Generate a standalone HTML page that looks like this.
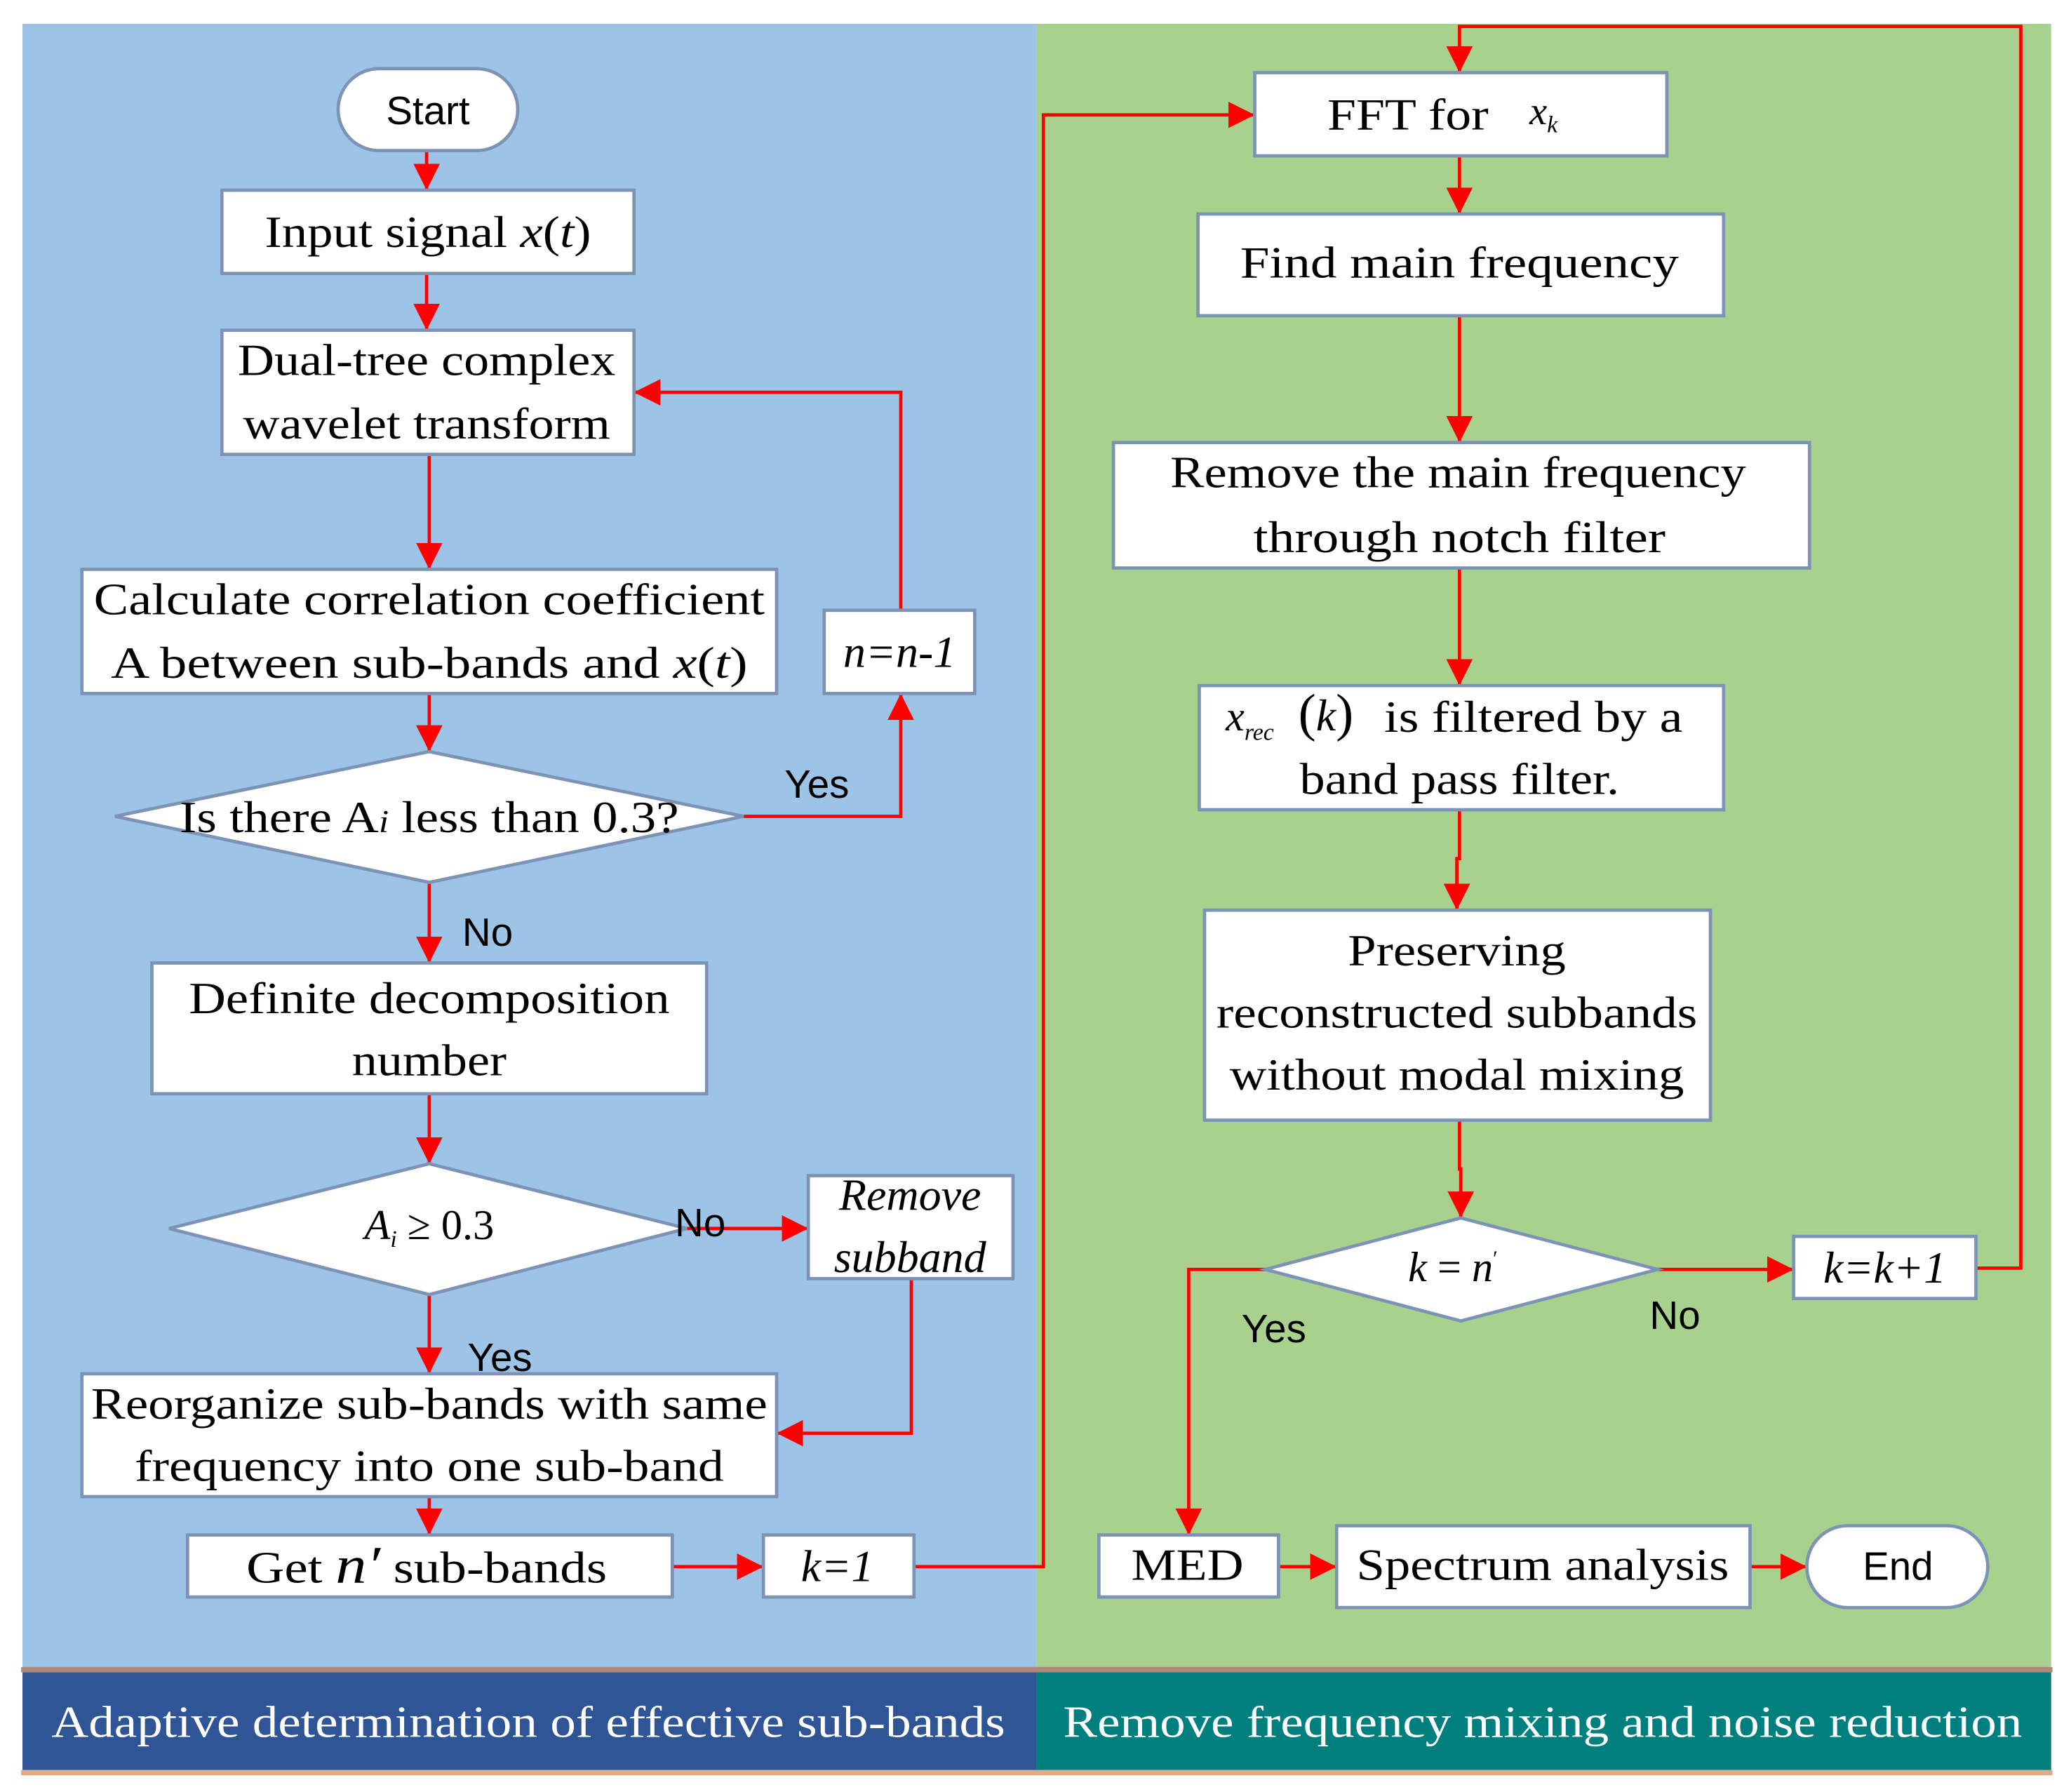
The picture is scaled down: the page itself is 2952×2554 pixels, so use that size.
<!DOCTYPE html>
<html><head><meta charset="utf-8"><style>
html,body{margin:0;padding:0;background:#fff;}
svg{display:block;}
text{font-family:"Liberation Serif",serif;fill:#000;}
.s{font-family:"Liberation Sans",sans-serif;}
.b{fill:#fff;stroke:#7d93b5;stroke-width:2.5;}
.l{stroke:#ff0000;stroke-width:2.5;fill:none;}
</style></head><body>
<svg width="2952" height="2554" viewBox="0 0 1568 1356.6" xmlns="http://www.w3.org/2000/svg">
<defs>
<marker id="A" viewBox="0 0 10 10" refX="10" refY="5" markerWidth="20" markerHeight="20" markerUnits="userSpaceOnUse" orient="auto">
<path d="M0,0 L10,5 L0,10 z" fill="#ff0000"/></marker>
</defs>
<rect x="0" y="0" width="1568" height="1357" fill="#fff"/>
<rect x="17" y="18" width="768" height="1246" fill="#9DC3E6"/>
<rect x="785" y="18" width="768" height="1246" fill="#A9D18E"/>
<rect x="16" y="1262" width="1538" height="4" fill="#b08a78"/>
<rect x="17" y="1266" width="768" height="74" fill="#2F5597"/>
<rect x="785" y="1266" width="768" height="74" fill="#007F7F"/>
<rect x="16" y="1340" width="1538" height="4" fill="#e0ab88"/>
<text x="400" y="1315" font-size="34" style="fill:#fff" text-anchor="middle" textLength="722" lengthAdjust="spacingAndGlyphs">Adaptive determination of effective sub-bands</text>
<text x="1168" y="1315" font-size="34" style="fill:#fff" text-anchor="middle" textLength="726" lengthAdjust="spacingAndGlyphs">Remove frequency mixing and noise reduction</text>

<g class="l">
<path d="M323,114 V144" marker-end="url(#A)"/>
<path d="M323,207 V250" marker-end="url(#A)"/>
<path d="M325,344 V431" marker-end="url(#A)"/>
<path d="M325,525 V569" marker-end="url(#A)"/>
<path d="M563,618 H682 V525" marker-end="url(#A)"/>
<path d="M682,462 V297 H480" marker-end="url(#A)"/>
<path d="M325,668 V729" marker-end="url(#A)"/>
<path d="M325,828 V881" marker-end="url(#A)"/>
<path d="M520,930 H612" marker-end="url(#A)"/>
<path d="M690,968 V1085 H588" marker-end="url(#A)"/>
<path d="M325,980 V1040" marker-end="url(#A)"/>
<path d="M325,1133 V1162" marker-end="url(#A)"/>
<path d="M509,1186 H578" marker-end="url(#A)"/>
<path d="M692,1186 H790 V87 H950" marker-end="url(#A)"/>
<path d="M1105,118 V162" marker-end="url(#A)"/>
<path d="M1105,239 V335" marker-end="url(#A)"/>
<path d="M1105,430 V519" marker-end="url(#A)"/>
<path d="M1105,613 V650 H1103 V689" marker-end="url(#A)"/>
<path d="M1105,848 V885 H1106 V922" marker-end="url(#A)"/>
<path d="M1255,961 H1358" marker-end="url(#A)"/>
<path d="M1496,960 H1530 V20 H1105 V55" marker-end="url(#A)"/>
<path d="M958,961 H900 V1162" marker-end="url(#A)"/>
<path d="M968,1186 H1012" marker-end="url(#A)"/>
<path d="M1325,1186 H1368" marker-end="url(#A)"/>
</g>

<rect class="b" x="256" y="52" width="136" height="62" rx="31"/>
<text class="s" x="324" y="94" font-size="30" text-anchor="middle">Start</text>
<rect class="b" x="168" y="144" width="312" height="63"/>
<text x="324" y="187" font-size="34" text-anchor="middle" textLength="247" lengthAdjust="spacingAndGlyphs">Input signal <tspan font-style="italic">x</tspan>(<tspan font-style="italic">t</tspan>)</text>
<rect class="b" x="168" y="250" width="312" height="94"/>
<text x="323" y="284" font-size="34" text-anchor="middle" textLength="286" lengthAdjust="spacingAndGlyphs">Dual-tree complex</text>
<text x="323" y="332" font-size="34" text-anchor="middle" textLength="278" lengthAdjust="spacingAndGlyphs">wavelet transform</text>
<rect class="b" x="62" y="431" width="526" height="94"/>
<text x="325" y="465" font-size="34" text-anchor="middle" textLength="508" lengthAdjust="spacingAndGlyphs">Calculate  correlation coefficient</text>
<text x="325" y="513" font-size="34" text-anchor="middle" textLength="482" lengthAdjust="spacingAndGlyphs">A between  sub-bands and  <tspan font-style="italic">x</tspan>(<tspan font-style="italic">t</tspan>)</text>
<rect class="b" x="624" y="462" width="114" height="63"/>
<text x="681" y="505" font-size="34" font-style="italic" text-anchor="middle">n=n-1</text>
<polygon class="b" points="87,618 325,569 563,618 325,668"/>
<text x="325" y="630" font-size="34" text-anchor="middle" textLength="378" lengthAdjust="spacingAndGlyphs">Is there A<tspan font-style="italic" font-size="24">i</tspan> less than 0.3?</text>
<text class="s" x="594" y="604" font-size="30">Yes</text>
<text class="s" x="350" y="716" font-size="30">No</text>
<rect class="b" x="115" y="729" width="420" height="99"/>
<text x="325" y="767" font-size="34" text-anchor="middle" textLength="364" lengthAdjust="spacingAndGlyphs">Definite decomposition</text>
<text x="325" y="814" font-size="34" text-anchor="middle" textLength="117" lengthAdjust="spacingAndGlyphs">number</text>
<polygon class="b" points="128,930 325,881 520,930 325,980"/>
<text x="325" y="938" font-size="32" text-anchor="middle"><tspan font-style="italic">A</tspan><tspan font-style="italic" font-size="18" dy="6">i</tspan><tspan dy="-6"> ≥ 0.3</tspan></text>
<text class="s" x="511" y="936" font-size="30">No</text>
<rect class="b" x="612" y="890" width="155" height="78"/>
<text x="689" y="916" font-size="34" font-style="italic" text-anchor="middle">Remove</text>
<text x="689" y="963" font-size="34" font-style="italic" text-anchor="middle">subband</text>
<text class="s" x="354" y="1038" font-size="30">Yes</text>
<rect class="b" x="62" y="1040" width="526" height="93"/>
<text x="325" y="1074" font-size="34" text-anchor="middle" textLength="512" lengthAdjust="spacingAndGlyphs">Reorganize sub-bands with same</text>
<text x="325" y="1121" font-size="34" text-anchor="middle" textLength="446" lengthAdjust="spacingAndGlyphs">frequency into one sub-band</text>
<rect class="b" x="142" y="1162" width="367" height="47"/>
<text x="323" y="1198" font-size="34" text-anchor="middle" textLength="273" lengthAdjust="spacingAndGlyphs">Get <tspan font-style="italic" font-size="40">n′</tspan> sub-bands</text>
<rect class="b" x="578" y="1162" width="114" height="47"/>
<text x="634" y="1197" font-size="34" font-style="italic" text-anchor="middle">k=1</text>

<rect class="b" x="950" y="55" width="312" height="63"/>
<text x="1005" y="98" font-size="34" textLength="122" lengthAdjust="spacingAndGlyphs">FFT for</text>
<text x="1158" y="94" font-size="30" font-style="italic">x<tspan font-size="18" dy="6">k</tspan></text>
<rect class="b" x="907" y="162" width="398" height="77"/>
<text x="1105" y="210" font-size="34" text-anchor="middle" textLength="332" lengthAdjust="spacingAndGlyphs">Find  main frequency</text>
<rect class="b" x="843" y="335" width="527" height="95"/>
<text x="1104" y="369" font-size="34" text-anchor="middle" textLength="436" lengthAdjust="spacingAndGlyphs">Remove the main frequency</text>
<text x="1105" y="418" font-size="34" text-anchor="middle" textLength="312" lengthAdjust="spacingAndGlyphs">through  notch filter</text>
<rect class="b" x="908" y="519" width="397" height="94"/>
<text x="928" y="553" font-size="32" font-style="italic">x<tspan font-size="18" dy="7">rec</tspan></text>
<text x="983" y="553" font-size="40">(<tspan font-style="italic" font-size="34">k</tspan>)</text>
<text x="1048" y="554" font-size="34" textLength="226" lengthAdjust="spacingAndGlyphs">is filtered by a</text>
<text x="1105" y="601" font-size="34" text-anchor="middle" textLength="242" lengthAdjust="spacingAndGlyphs">band pass filter.</text>
<rect class="b" x="912" y="689" width="383" height="159"/>
<text x="1103" y="731" font-size="34" text-anchor="middle" textLength="165" lengthAdjust="spacingAndGlyphs">Preserving</text>
<text x="1103" y="778" font-size="34" text-anchor="middle" textLength="364" lengthAdjust="spacingAndGlyphs">reconstructed subbands</text>
<text x="1103" y="825" font-size="34" text-anchor="middle" textLength="344" lengthAdjust="spacingAndGlyphs">without modal mixing</text>
<polygon class="b" points="958,961 1106,922 1255,961 1106,1000"/>
<text x="1100" y="970" font-size="32" text-anchor="middle"><tspan font-style="italic">k</tspan> = <tspan font-style="italic">n</tspan><tspan font-size="16" dy="-12">′</tspan></text>
<text class="s" x="1249" y="1006" font-size="30">No</text>
<text class="s" x="940" y="1016" font-size="30">Yes</text>
<rect class="b" x="1358" y="936" width="138" height="47"/>
<text x="1427" y="971" font-size="34" font-style="italic" text-anchor="middle">k=k+1</text>
<rect class="b" x="832" y="1162" width="136" height="47"/>
<text x="899" y="1196" font-size="34" text-anchor="middle" textLength="85" lengthAdjust="spacingAndGlyphs">MED</text>
<rect class="b" x="1012" y="1155" width="313" height="62"/>
<text x="1168" y="1196" font-size="34" text-anchor="middle" textLength="282" lengthAdjust="spacingAndGlyphs">Spectrum analysis</text>
<rect class="b" x="1368" y="1155" width="137" height="62" rx="31"/>
<text class="s" x="1437" y="1196" font-size="30" text-anchor="middle">End</text>
</svg>
</body></html>
